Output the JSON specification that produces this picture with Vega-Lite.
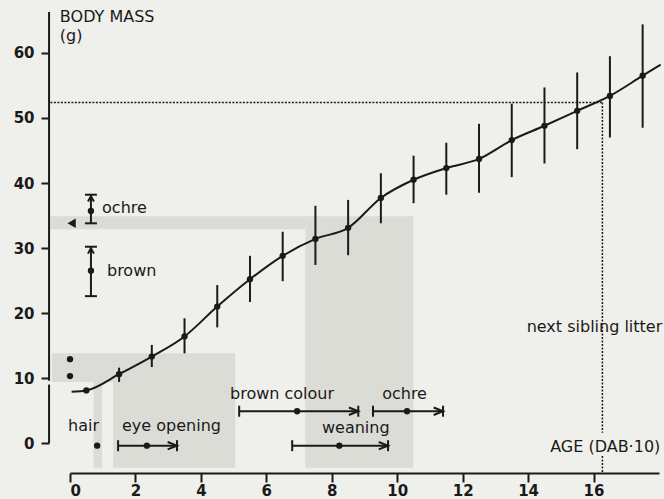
{
  "$schema": "https://vega.github.io/schema/vega-lite/v6.json",
  "width": 589,
  "height": 461,
  "autosize": {"type": "none"},
  "padding": {"left": 70, "top": 12, "right": 5, "bottom": 26},
  "background": "#efefeb",
  "config": {
    "view": {"stroke": null},
    "axis": {
      "grid": false,
      "labelFont": "DejaVu Sans",
      "labelFontWeight": "bold",
      "labelFontSize": 15,
      "labelColor": "#1a1a1a",
      "tickColor": "#1a1a1a",
      "domainColor": "#1a1a1a",
      "tickWidth": 2,
      "domainWidth": 2,
      "title": null
    }
  },
  "datasets": {
    "shade": [
      {"x": -0.6, "x2": 7.19, "y": 32.9, "y2": 34.9},
      {"x": 7.19, "x2": 10.49, "y": -3.8, "y2": 34.9},
      {"x": -0.55, "x2": 5.05, "y": 9.4, "y2": 13.8},
      {"x": 0.72, "x2": 0.98, "y": -3.8, "y2": 9.4},
      {"x": 1.32, "x2": 5.05, "y": -3.8, "y2": 9.4}
    ],
    "guides": [
      {"x": -0.6, "x2": 16.27, "y": 52.4, "y2": 52.4},
      {"x": 16.27, "x2": 16.27, "y": 52.4, "y2": 1.6},
      {"x": 16.27, "x2": 16.27, "y": -2.0, "y2": -4.6}
    ],
    "yline": [
      {"x": -0.64, "x2": -0.64, "y": 66.3, "y2": 9.6},
      {"x": -0.64, "x2": -0.64, "y": 9.0, "y2": 0}
    ],
    "curve": [
      {"x": 0.05, "y": 7.9},
      {"x": 0.5, "y": 8.1},
      {"x": 1.5, "y": 10.6},
      {"x": 2.5, "y": 13.3},
      {"x": 3.5, "y": 16.4},
      {"x": 4.5, "y": 21.0},
      {"x": 5.5, "y": 25.2},
      {"x": 6.5, "y": 28.8},
      {"x": 7.5, "y": 31.4},
      {"x": 8.5, "y": 33.1},
      {"x": 9.5, "y": 37.7},
      {"x": 10.5, "y": 40.5},
      {"x": 11.5, "y": 42.3},
      {"x": 12.5, "y": 43.7},
      {"x": 13.5, "y": 46.6},
      {"x": 14.5, "y": 48.8},
      {"x": 15.5, "y": 51.1},
      {"x": 16.5, "y": 53.4},
      {"x": 17.5, "y": 56.5},
      {"x": 18.05, "y": 58.2}
    ],
    "growth": [
      {"x": 0.5, "y": 8.1, "lo": 8.1, "hi": 8.1},
      {"x": 1.5, "y": 10.6, "lo": 9.4, "hi": 11.6},
      {"x": 2.5, "y": 13.3, "lo": 11.7, "hi": 15.1},
      {"x": 3.5, "y": 16.4, "lo": 13.8, "hi": 19.2},
      {"x": 4.5, "y": 21.0, "lo": 17.8, "hi": 24.3},
      {"x": 5.5, "y": 25.2, "lo": 21.7, "hi": 28.8},
      {"x": 6.5, "y": 28.8, "lo": 24.9, "hi": 32.5},
      {"x": 7.5, "y": 31.4, "lo": 27.4, "hi": 36.5},
      {"x": 8.5, "y": 33.1, "lo": 28.9, "hi": 37.4},
      {"x": 9.5, "y": 37.7, "lo": 33.8, "hi": 41.5},
      {"x": 10.5, "y": 40.5, "lo": 36.9, "hi": 44.2},
      {"x": 11.5, "y": 42.3, "lo": 38.2, "hi": 46.2},
      {"x": 12.5, "y": 43.7, "lo": 38.5, "hi": 49.1},
      {"x": 13.5, "y": 46.6, "lo": 40.9, "hi": 52.2},
      {"x": 14.5, "y": 48.8, "lo": 43.0, "hi": 54.7},
      {"x": 15.5, "y": 51.1, "lo": 45.2, "hi": 57.0},
      {"x": 16.5, "y": 53.4, "lo": 47.0, "hi": 59.5},
      {"x": 17.5, "y": 56.5, "lo": 48.5, "hi": 64.4}
    ],
    "colourkey": [
      {"label": "ochre", "x": 0.64, "y": 35.7, "lo": 33.8, "hi": 38.2},
      {"label": "brown", "x": 0.64, "y": 26.5, "lo": 22.6, "hi": 30.2}
    ],
    "ranges": [
      {"label": "eye opening", "x": 1.47, "dot": 2.35, "x2": 3.27, "y": -0.4},
      {"label": "brown colour", "x": 5.17, "dot": 6.94, "x2": 8.81, "y": 4.9},
      {"label": "ochre", "x": 9.26, "dot": 10.3, "x2": 11.4, "y": 4.9},
      {"label": "weaning", "x": 6.79, "dot": 8.23, "x2": 9.72, "y": -0.4}
    ],
    "dots": [
      {"x": 0.0, "y": 12.9},
      {"x": 0.0, "y": 10.3},
      {"x": 0.83, "y": -0.4}
    ],
    "arrowleft": [
      {"x": 0.05, "y": 33.8}
    ],
    "textleft": [
      {"text": "ochre", "x": 0.98, "y": 35.4},
      {"text": "brown", "x": 1.13, "y": 25.7},
      {"text": "hair", "x": -0.06, "y": 1.85},
      {"text": "eye opening", "x": 1.59, "y": 1.85},
      {"text": "brown colour", "x": 4.89, "y": 6.8},
      {"text": "ochre", "x": 9.54, "y": 6.8},
      {"text": "weaning", "x": 7.7, "y": 1.5}
    ],
    "textright": [
      {"text": "next sibling litter", "x": 18.1, "y": 17.1},
      {"text": "AGE (DAB·10)", "x": 18.04, "y": -1.4}
    ],
    "ytitle": [
      {"text": "BODY MASS", "x": -0.31, "y": 64.8},
      {"text": "(g)", "x": -0.31, "y": 61.8}
    ]
  },
  "layer": [
    {
      "data": {"name": "shade"},
      "mark": {"type": "rect", "fill": "#dcdcd7"},
      "encoding": {
        "x": {"field": "x", "type": "quantitative", "scale": {"domain": [0, 18], "nice": false, "zero": false},
              "axis": {"values": [0, 2, 4, 6, 8, 10, 12, 14, 16], "tickSize": 9, "labelPadding": 1, "title": null}},
        "x2": {"field": "x2"},
        "y": {"field": "y", "type": "quantitative", "scale": {"domain": [-4.6, 66.3], "nice": false, "zero": false},
              "axis": {"values": [0, 10, 20, 30, 40, 50, 60], "offset": 21, "tickSize": 8, "labelPadding": 7, "domain": false, "title": null}},
        "y2": {"field": "y2"}
      }
    },
    {
      "data": {"name": "guides"},
      "mark": {"type": "rule", "color": "#1a1a1a", "strokeWidth": 1.5, "strokeDash": [2, 1.5]},
      "encoding": {
        "x": {"field": "x", "type": "quantitative", "scale": {"domain": [0, 18], "nice": false, "zero": false}},
        "x2": {"field": "x2"},
        "y": {"field": "y", "type": "quantitative", "scale": {"domain": [-4.6, 66.3], "nice": false, "zero": false}},
        "y2": {"field": "y2"}
      }
    },
    {
      "data": {"name": "yline"},
      "mark": {"type": "rule", "color": "#1a1a1a", "strokeWidth": 2},
      "encoding": {
        "x": {"field": "x", "type": "quantitative", "scale": {"domain": [0, 18], "nice": false, "zero": false}},
        "x2": {"field": "x2"},
        "y": {"field": "y", "type": "quantitative", "scale": {"domain": [-4.6, 66.3], "nice": false, "zero": false}},
        "y2": {"field": "y2"}
      }
    },
    {
      "data": {"name": "curve"},
      "mark": {"type": "line", "color": "#1a1a1a", "strokeWidth": 2, "interpolate": "monotone"},
      "encoding": {
        "x": {"field": "x", "type": "quantitative", "scale": {"domain": [0, 18], "nice": false, "zero": false}},
        "y": {"field": "y", "type": "quantitative", "scale": {"domain": [-4.6, 66.3], "nice": false, "zero": false}}
      }
    },
    {
      "data": {"name": "growth"},
      "mark": {"type": "rule", "color": "#1a1a1a", "strokeWidth": 2},
      "encoding": {
        "x": {"field": "x", "type": "quantitative", "scale": {"domain": [0, 18], "nice": false, "zero": false}},
        "y": {"field": "lo", "type": "quantitative", "scale": {"domain": [-4.6, 66.3], "nice": false, "zero": false}},
        "y2": {"field": "hi"}
      }
    },
    {
      "data": {"name": "growth"},
      "mark": {"type": "point", "filled": true, "color": "#1a1a1a", "size": 40, "opacity": 1},
      "encoding": {
        "x": {"field": "x", "type": "quantitative", "scale": {"domain": [0, 18], "nice": false, "zero": false}},
        "y": {"field": "y", "type": "quantitative", "scale": {"domain": [-4.6, 66.3], "nice": false, "zero": false}}
      }
    },
    {
      "data": {"name": "colourkey"},
      "mark": {"type": "rule", "color": "#1a1a1a", "strokeWidth": 2},
      "encoding": {
        "x": {"field": "x", "type": "quantitative", "scale": {"domain": [0, 18], "nice": false, "zero": false}},
        "y": {"field": "lo", "type": "quantitative", "scale": {"domain": [-4.6, 66.3], "nice": false, "zero": false}},
        "y2": {"field": "hi"}
      }
    },
    {
      "data": {"name": "colourkey"},
      "mark": {"type": "tick", "orient": "horizontal", "color": "#1a1a1a", "size": 12, "thickness": 2, "opacity": 1},
      "encoding": {
        "x": {"field": "x", "type": "quantitative", "scale": {"domain": [0, 18], "nice": false, "zero": false}},
        "y": {"field": "lo", "type": "quantitative", "scale": {"domain": [-4.6, 66.3], "nice": false, "zero": false}}
      }
    },
    {
      "data": {"name": "colourkey"},
      "mark": {"type": "tick", "orient": "horizontal", "color": "#1a1a1a", "size": 12, "thickness": 2, "opacity": 1},
      "encoding": {
        "x": {"field": "x", "type": "quantitative", "scale": {"domain": [0, 18], "nice": false, "zero": false}},
        "y": {"field": "hi", "type": "quantitative", "scale": {"domain": [-4.6, 66.3], "nice": false, "zero": false}}
      }
    },
    {
      "data": {"name": "colourkey"},
      "mark": {"type": "point", "shape": "M -1 1.8 L 0 0 L 1 1.8", "filled": false, "color": "#1a1a1a", "strokeWidth": 2, "size": 36, "opacity": 1, "yOffset": 1.5},
      "encoding": {
        "x": {"field": "x", "type": "quantitative", "scale": {"domain": [0, 18], "nice": false, "zero": false}},
        "y": {"field": "hi", "type": "quantitative", "scale": {"domain": [-4.6, 66.3], "nice": false, "zero": false}}
      }
    },
    {
      "data": {"name": "colourkey"},
      "mark": {"type": "point", "filled": true, "color": "#1a1a1a", "size": 40, "opacity": 1},
      "encoding": {
        "x": {"field": "x", "type": "quantitative", "scale": {"domain": [0, 18], "nice": false, "zero": false}},
        "y": {"field": "y", "type": "quantitative", "scale": {"domain": [-4.6, 66.3], "nice": false, "zero": false}}
      }
    },
    {
      "data": {"name": "ranges"},
      "mark": {"type": "rule", "color": "#1a1a1a", "strokeWidth": 2},
      "encoding": {
        "x": {"field": "x", "type": "quantitative", "scale": {"domain": [0, 18], "nice": false, "zero": false}},
        "x2": {"field": "x2"},
        "y": {"field": "y", "type": "quantitative", "scale": {"domain": [-4.6, 66.3], "nice": false, "zero": false}}
      }
    },
    {
      "data": {"name": "ranges"},
      "mark": {"type": "tick", "orient": "vertical", "color": "#1a1a1a", "size": 11, "thickness": 2, "opacity": 1},
      "encoding": {
        "x": {"field": "x", "type": "quantitative", "scale": {"domain": [0, 18], "nice": false, "zero": false}},
        "y": {"field": "y", "type": "quantitative", "scale": {"domain": [-4.6, 66.3], "nice": false, "zero": false}}
      }
    },
    {
      "data": {"name": "ranges"},
      "mark": {"type": "tick", "orient": "vertical", "color": "#1a1a1a", "size": 11, "thickness": 2, "opacity": 1},
      "encoding": {
        "x": {"field": "x2", "type": "quantitative", "scale": {"domain": [0, 18], "nice": false, "zero": false}},
        "y": {"field": "y", "type": "quantitative", "scale": {"domain": [-4.6, 66.3], "nice": false, "zero": false}}
      }
    },
    {
      "data": {"name": "ranges"},
      "mark": {"type": "point", "shape": "M -2.5 -1 L 0 0 L -2.5 1", "filled": false, "color": "#1a1a1a", "strokeWidth": 2, "size": 56, "opacity": 1},
      "encoding": {
        "x": {"field": "x2", "type": "quantitative", "scale": {"domain": [0, 18], "nice": false, "zero": false}},
        "y": {"field": "y", "type": "quantitative", "scale": {"domain": [-4.6, 66.3], "nice": false, "zero": false}}
      }
    },
    {
      "data": {"name": "ranges"},
      "mark": {"type": "point", "filled": true, "color": "#1a1a1a", "size": 40, "opacity": 1},
      "encoding": {
        "x": {"field": "dot", "type": "quantitative", "scale": {"domain": [0, 18], "nice": false, "zero": false}},
        "y": {"field": "y", "type": "quantitative", "scale": {"domain": [-4.6, 66.3], "nice": false, "zero": false}}
      }
    },
    {
      "data": {"name": "dots"},
      "mark": {"type": "point", "filled": true, "color": "#1a1a1a", "size": 40, "opacity": 1},
      "encoding": {
        "x": {"field": "x", "type": "quantitative", "scale": {"domain": [0, 18], "nice": false, "zero": false}},
        "y": {"field": "y", "type": "quantitative", "scale": {"domain": [-4.6, 66.3], "nice": false, "zero": false}}
      }
    },
    {
      "data": {"name": "arrowleft"},
      "mark": {"type": "point", "shape": "triangle-left", "filled": true, "color": "#1a1a1a", "size": 90, "opacity": 1},
      "encoding": {
        "x": {"field": "x", "type": "quantitative", "scale": {"domain": [0, 18], "nice": false, "zero": false}},
        "y": {"field": "y", "type": "quantitative", "scale": {"domain": [-4.6, 66.3], "nice": false, "zero": false}}
      }
    },
    {
      "data": {"name": "textleft"},
      "mark": {"type": "text", "align": "left", "baseline": "alphabetic", "font": "DejaVu Sans", "fontSize": 16, "color": "#1a1a1a"},
      "encoding": {
        "x": {"field": "x", "type": "quantitative", "scale": {"domain": [0, 18], "nice": false, "zero": false}},
        "y": {"field": "y", "type": "quantitative", "scale": {"domain": [-4.6, 66.3], "nice": false, "zero": false}},
        "text": {"field": "text"}
      }
    },
    {
      "data": {"name": "textright"},
      "mark": {"type": "text", "align": "right", "baseline": "alphabetic", "font": "DejaVu Sans", "fontSize": 16, "color": "#1a1a1a"},
      "encoding": {
        "x": {"field": "x", "type": "quantitative", "scale": {"domain": [0, 18], "nice": false, "zero": false}},
        "y": {"field": "y", "type": "quantitative", "scale": {"domain": [-4.6, 66.3], "nice": false, "zero": false}},
        "text": {"field": "text"}
      }
    },
    {
      "data": {"name": "ytitle"},
      "mark": {"type": "text", "align": "left", "baseline": "alphabetic", "font": "DejaVu Sans", "fontSize": 16, "color": "#1a1a1a"},
      "encoding": {
        "x": {"field": "x", "type": "quantitative", "scale": {"domain": [0, 18], "nice": false, "zero": false}},
        "y": {"field": "y", "type": "quantitative", "scale": {"domain": [-4.6, 66.3], "nice": false, "zero": false}},
        "text": {"field": "text"}
      }
    }
  ]
}
